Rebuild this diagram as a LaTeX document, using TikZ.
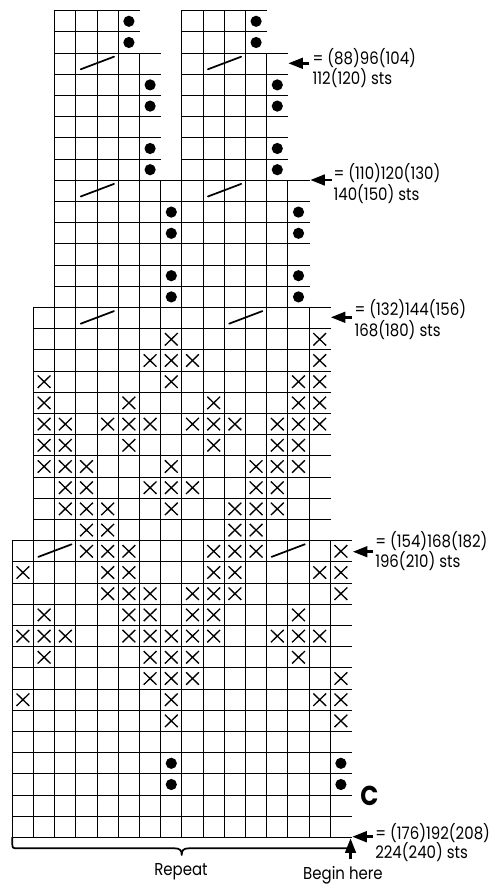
\documentclass[tikz,border=0pt]{standalone}
\usepackage{fontspec}
\setmainfont{Poppins}[FakeStretch=0.87]
\usetikzlibrary{arrows.meta}
\tikzset{
  gridline/.style={line width=0.7pt, line cap=rect},
  xmark/.style={line width=1.0pt},
  slashline/.style={line width=1.3pt, line cap=round},
  pointer/.style={line width=2pt, -{Triangle[length=11pt,width=8pt]}},
  lbl/.style={anchor=base west, inner sep=0pt, font=\fontsize{12.9}{15}\selectfont},
  ctext/.style={anchor=base, inner sep=0pt, font=\fontsize{12.9}{15}\selectfont},
}
\begin{document}
\begin{tikzpicture}[x=0.75pt,y=-0.75pt]
\useasboundingbox (0,0) rectangle (497,884);
% grid: each cell draws its top, bottom and left edge
\foreach \ra/\rb/\a/\b in {0/1/2/5, 0/1/8/11, 2/7/2/6, 2/7/8/12, 8/13/2/13, 14/24/1/14, 25/38/0/15} {
  \foreach \r in {\ra,...,\rb} {
    \draw[gridline] ({12.3+21.2*\a},{10.7+21.2*\r}) -- ({12.3+21.2*(\b+1)},{10.7+21.2*\r});
    \draw[gridline] ({12.3+21.2*\a},{10.7+21.2*(\r+1)}) -- ({12.3+21.2*(\b+1)},{10.7+21.2*(\r+1)});
    \foreach \c in {\a,...,\b} {
      \draw[gridline] ({12.3+21.2*\c},{10.7+21.2*\r}) -- ({12.3+21.2*\c},{10.7+21.2*(\r+1)});
    }
  }
}
% dots
\foreach \r/\c in {0/5,1/5,0/11,1/11, 3/6,4/6,6/6,7/6, 3/12,4/12,6/12,7/12,
                   9/7,10/7,12/7,13/7, 9/13,10/13,12/13,13/13, 35/7,36/7,35/15,36/15} {
  \fill ({22.9+21.2*\c},{21.3+21.2*\r}) circle (4.2pt);
}
% slashes (two cells wide)
\foreach \r/\a in {2/3, 2/9, 8/3, 8/9, 14/3, 14/10, 25/1, 25/12} {
  \draw[slashline] ({12.3+21.2*\a+4.8},{10.7+21.2*(\r+1)-5}) -- ({12.3+21.2*(\a+2)-4.3},{10.7+21.2*\r+3.6});
}
% X marks
\foreach \r/\c in {15/7,15/14,
  16/6,16/7,16/8,16/14,
  17/1,17/7,17/13,17/14,
  18/1,18/5,18/9,18/13,18/14,
  19/1,19/2,19/4,19/5,19/6,19/8,19/9,19/10,19/12,19/13,19/14,
  20/1,20/2,20/5,20/9,20/12,20/13,
  21/1,21/2,21/3,21/7,21/11,21/12,21/13,
  22/2,22/3,22/6,22/7,22/8,22/11,22/12,
  23/2,23/3,23/4,23/7,23/10,23/11,23/12,
  24/3,24/4,24/10,24/11,
  25/3,25/4,25/5,25/9,25/10,25/11,25/15,
  26/0,26/4,26/5,26/9,26/10,26/14,26/15,
  27/4,27/5,27/6,27/8,27/9,27/10,27/15,
  28/1,28/5,28/6,28/8,28/9,28/13,
  29/0,29/1,29/2,29/5,29/6,29/7,29/8,29/9,29/12,29/13,29/14,
  30/1,30/6,30/7,30/8,30/13,
  31/6,31/7,31/8,31/15,
  32/0,32/7,32/14,32/15,
  33/7,33/15} {
  \draw[xmark] ({22.9+21.2*\c-6.4},{21.3+21.2*\r-6.2}) -- ({22.9+21.2*\c+6.4},{21.3+21.2*\r+6.2})
               ({22.9+21.2*\c-6.4},{21.3+21.2*\r+6.2}) -- ({22.9+21.2*\c+6.4},{21.3+21.2*\r-6.2});
}
% labels
\node[lbl] (l1a) at (312.3,64.3) {= (88)96(104)};
\node[lbl] (l1b) at (312.3,84.3) {112(120) sts};
\node[lbl] (l2a) at (333.3,180) {= (110)120(130)};
\node[lbl] (l2b) at (333.3,200) {140(150) sts};
\node[lbl] (l3a) at (354.3,315.7) {= (132)144(156)};
\node[lbl] (l3b) at (354.3,336.7) {168(180) sts};
\node[lbl] (l4a) at (375,547) {= (154)168(182)};
\node[lbl] (l4b) at (375,567) {196(210) sts};
\node[lbl] (l5a) at (375,839) {= (176)192(208)};
\node[lbl] (l5b) at (375,858.3) {224(240) sts};
% arrows
\coordinate (a1s) at (309.3,63.3);  \coordinate (a1t) at (288.3,63.3);
\coordinate (a2s) at (331.7,180);   \coordinate (a2t) at (310.2,180);
\coordinate (a3s) at (351.7,317.3); \coordinate (a3t) at (330.7,317.3);
\coordinate (a4s) at (373.3,551.7); \coordinate (a4t) at (352.8,551.7);
\coordinate (a5s) at (372.7,836.7); \coordinate (a5t) at (352.2,836.7);
\coordinate (ups) at (350.5,858.5); \coordinate (upt) at (350.5,838.3);
\foreach \n in {1,...,5} { \draw[pointer] (a\n s) -- (a\n t); }
\draw[pointer] (ups) -- (upt);
% brace
\draw[line width=1.3pt, line cap=round, line join=round]
  (12.3,837.5) -- (12.3,842.5) .. controls (12.3,848.3) .. (18.3,848.3)
  -- (174.5,848.3) .. controls (180,848.3) and (181.7,850.3) .. (181.7,855)
  .. controls (181.7,850.3) and (183.4,848.3) .. (188.9,848.3)
  -- (350.5,848.3);
% texts
\node[ctext] (rep) at (181,875) {Repeat};
\node[ctext] (beg) at (343,879.5) {Begin here};
\node[anchor=center, inner sep=0pt, font=\fontsize{20.5}{22}\selectfont\bfseries] (cc) at (369.5,796) {C};
\end{tikzpicture}
\end{document}
